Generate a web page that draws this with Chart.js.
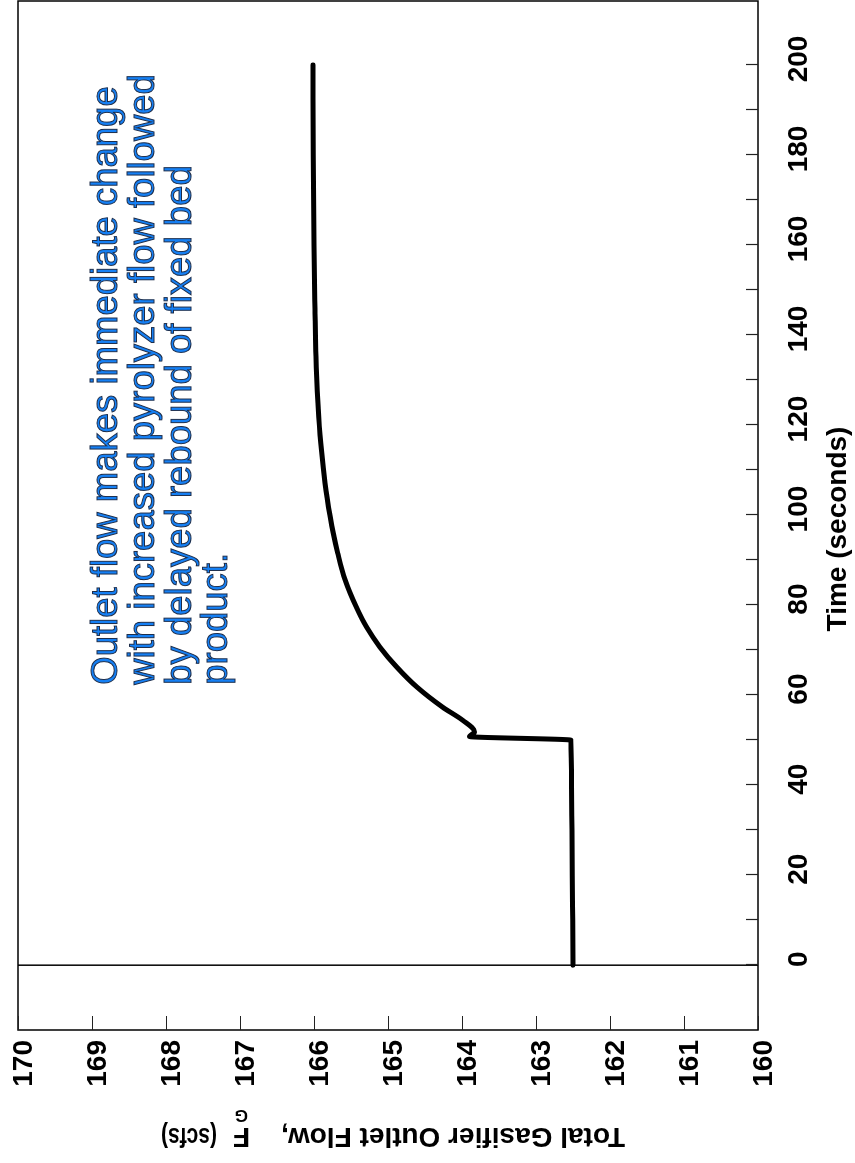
<!DOCTYPE html>
<html>
<head>
<meta charset="utf-8">
<script src="https://cdn.jsdelivr.net/npm/chart.js@4.4.1/dist/chart.umd.min.js"></script>
<style>
    html, body { margin: 0; padding: 0; background: #fff; overflow: hidden; }
    /* chart is drawn landscape, then turned a quarter turn counter-clockwise */
    #wrap {
        position: absolute; left: 0; top: 0;
        width: 1163px; height: 855px;
        transform-origin: 0 0;
        transform: translate(0, 1163px) rotate(-90deg);
    }
</style>
</head>
<body>
<div id="wrap"><canvas id="flow-chart" width="1163" height="855"></canvas></div>
<script>
// values
const times = [0, 10, 20, 30, 40, 50, 50.8, 51.8, 54.4, 57.3, 61.8, 66.2, 70.7, 75.1, 79.6,
    85.6, 91.6, 96, 99.6, 107.1, 114.4, 121.8, 132.9, 147.8, 160, 180, 200];
const flows = [162.5, 162.505, 162.51, 162.515, 162.52, 162.53, 163.9, 163.83, 163.99, 164.26,
    164.61, 164.88, 165.11, 165.29, 165.43, 165.58, 165.68, 165.74, 165.78, 165.85, 165.9,
    165.935, 165.97, 165.99, 166.0, 166.01, 166.015];

// t = 0 marker line
const zeroTimes = [0, 0];
const zeroFlows = [160, 170];

const timeTicks = [0, 10, 20, 30, 40, 50, 60, 70, 80, 90, 100, 110, 120, 130, 140, 150, 160, 170, 180, 190, 200];
const flowTicks = [160, 161, 162, 163, 164, 165, 166, 167, 168, 169, 170];

const xTitle = 'Time (seconds)';
const yTitle = ['Total Gasifier Outlet Flow,', 'F', 'G', '(scfs)'];
const noteLines = [
    'Outlet flow makes immediate change',
    'with increased pyrolyzer flow followed',
    'by delayed rebound of fixed bed',
    'product.'
];
const notePos = { t: 62.3, f: 168.66 };

const FONT = '"Liberation Sans", Arial, Helvetica, sans-serif';

const framePlugin = {
    id: 'frame',
    afterDraw(chart) {
        const { ctx, chartArea: a, scales: { x, y } } = chart;
        ctx.save();

        // box
        ctx.strokeStyle = '#000';
        ctx.lineWidth = 1.5;
        ctx.strokeRect(a.left, a.top, a.right - a.left, a.bottom - a.top);

        // inward ticks
        ctx.lineWidth = 1.2;
        ctx.strokeStyle = '#222';
        ctx.beginPath();
        timeTicks.forEach(t => {
            const px = Math.round(x.getPixelForValue(t)) + 0.5;
            ctx.moveTo(px, a.bottom);
            ctx.lineTo(px, a.bottom - 12);
        });
        flowTicks.forEach(f => {
            const py = Math.round(y.getPixelForValue(f)) + 0.5;
            ctx.moveTo(a.left, py);
            ctx.lineTo(a.left + 14, py);
        });
        ctx.stroke();

        // x axis title
        ctx.fillStyle = '#000';
        ctx.font = 'bold 28px ' + FONT;
        ctx.textAlign = 'center';
        ctx.textBaseline = 'alphabetic';
        ctx.fillText(xTitle, 634, 846);

        // y axis title, F with subscript G
        ctx.save();
        ctx.translate(35, 625);
        ctx.rotate(-Math.PI / 2);
        ctx.textAlign = 'left';
        ctx.font = 'bold 28px ' + FONT;
        ctx.fillText(yTitle[0], 0, 0);
        ctx.fillText(yTitle[1], 375, 0);
        ctx.font = 'bold 17px ' + FONT;
        ctx.fillText(yTitle[2], 377, 18);
        ctx.font = 'bold 28px ' + FONT;
        ctx.translate(408, 0);
        ctx.scale(0.75, 1);
        ctx.fillText(yTitle[3], 0, 0);
        ctx.restore();

        // blue note
        ctx.font = '36.5px ' + FONT;
        ctx.textAlign = 'left';
        ctx.textBaseline = 'alphabetic';
        ctx.fillStyle = '#1580f5';
        ctx.strokeStyle = '#1d2c48';
        ctx.lineWidth = 1;
        const nx = x.getPixelForValue(notePos.t);
        const ny = y.getPixelForValue(notePos.f);
        noteLines.forEach((s, i) => {
            ctx.fillText(s, nx, ny + i * 36.7);
            ctx.strokeText(s, nx, ny + i * 36.7);
        });

        ctx.restore();
    }
};

const ctx = document.getElementById('flow-chart').getContext('2d');

const flowChart = new Chart(ctx, {
    type: 'line',
    data: {
        datasets: [{
            data: times.map((t, i) => ({ x: t, y: flows[i] })),
            borderColor: '#000',
            borderWidth: 5,
            borderCapStyle: 'round',
            borderJoinStyle: 'round',
            cubicInterpolationMode: 'monotone',
            pointRadius: 0,
            fill: false
        }, {
            data: zeroTimes.map((t, i) => ({ x: t, y: zeroFlows[i] })),
            borderColor: '#000',
            borderWidth: 1.5,
            pointRadius: 0,
            fill: false
        }]
    },
    options: {
        responsive: false,
        animation: false,
        devicePixelRatio: 1,
        layout: { padding: { top: 18, right: 1, bottom: 0, left: 0 } },
        plugins: {
            legend: { display: false },
            tooltip: { enabled: false }
        },
        scales: {
            x: {
                type: 'linear',
                min: -14.4,
                max: 214.2,
                grid: { display: false, drawTicks: false },
                border: { display: false },
                afterBuildTicks: scale => { scale.ticks = timeTicks.map(v => ({ value: v })); },
                afterFit: scale => {
                    scale.height = 97;
                    scale.paddingLeft = 0;
                    scale.paddingRight = 0;
                },
                ticks: {
                    autoSkip: false,
                    maxRotation: 0,
                    padding: 24,
                    labelOffset: 6,
                    color: '#000',
                    font: { family: FONT, size: 28, weight: 'bold', lineHeight: 1.2 },
                    callback: v => (v % 20 === 0 ? String(v) : '')
                }
            },
            y: {
                min: 160,
                max: 170,
                grid: { display: false, drawTicks: false },
                border: { display: false },
                afterBuildTicks: scale => { scale.ticks = flowTicks.map(v => ({ value: v })); },
                afterFit: scale => {
                    scale.width = 133;
                    scale.paddingTop = 0;
                    scale.paddingBottom = 0;
                },
                ticks: {
                    autoSkip: false,
                    padding: 10,
                    labelOffset: 6,
                    color: '#000',
                    font: { family: FONT, size: 28, weight: 'bold', lineHeight: 1.2 },
                    callback: v => String(v)
                }
            }
        }
    },
    plugins: [framePlugin]
});
</script>
</body>
</html>
